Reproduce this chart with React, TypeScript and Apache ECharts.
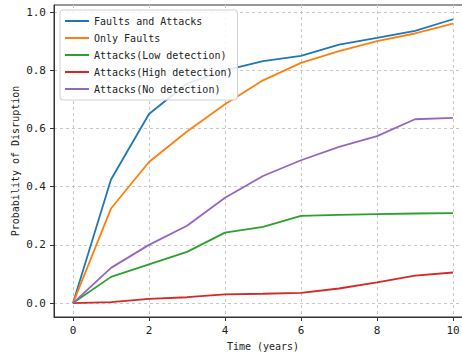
import React, { useEffect, useRef } from "react";
import * as echarts from "echarts";

const years = [0, 1, 2, 3, 4, 5, 6, 7, 8, 9, 10];
const faultsAndAttacks = [0, 0.425, 0.65, 0.755, 0.8, 0.832, 0.85, 0.889, 0.912, 0.936, 0.976];
const onlyFaults = [0, 0.325, 0.485, 0.59, 0.684, 0.766, 0.826, 0.866, 0.901, 0.927, 0.961];
const attacksLow = [0, 0.09, 0.133, 0.176, 0.242, 0.262, 0.3, 0.303, 0.306, 0.308, 0.309];
const attacksHigh = [0, 0.003, 0.014, 0.02, 0.03, 0.032, 0.035, 0.05, 0.071, 0.094, 0.105];
const attacksNone = [0, 0.121, 0.2, 0.266, 0.362, 0.437, 0.491, 0.537, 0.574, 0.632, 0.637];

const seriesNames = [
  "Faults and Attacks",
  "Only Faults",
  "Attacks(Low detection)",
  "Attacks(High detection)",
  "Attacks(No detection)",
];
const seriesValues = [faultsAndAttacks, onlyFaults, attacksLow, attacksHigh, attacksNone];
const colors = ["#1f77b4", "#ff7f0e", "#2ca02c", "#d62728", "#9467bd"];
const xTicks = [0, 2, 4, 6, 8, 10];
const yTicks = [0, 0.2, 0.4, 0.6, 0.8, 1.0];

const FONT = "'DejaVu Sans Mono', 'Liberation Mono', monospace";

export default function App() {
  const ref = useRef<HTMLDivElement>(null);
  useEffect(() => {
    if (!ref.current) return;
    const chart = echarts.init(ref.current, null, { renderer: "svg" });
    chart.setOption({
      animation: false,
      color: colors,
      grid: {
        left: 54,
        top: 5,
        width: 418,
        height: 312,
        outerBoundsMode: "none",
        containLabel: false,
        show: true,
        borderColor: "#333",
        borderWidth: 1,
      },
      legend: {
        orient: "vertical",
        left: 60,
        top: 10,
        data: seriesNames,
        icon: "rect",
        itemWidth: 24,
        itemHeight: 2,
        itemGap: 5,
        padding: [5, 5, 5, 5],
        backgroundColor: "rgba(255,255,255,0.85)",
        borderColor: "#d0d0d0",
        borderWidth: 1,
        borderRadius: 3,
        textStyle: { fontFamily: FONT, fontSize: 10, color: "#222", lineHeight: 12 },
      },
      xAxis: {
        type: "value",
        min: -0.5,
        max: 10.5,
        name: "Time (years)",
        nameLocation: "middle",
        nameGap: 24,
        nameTextStyle: { fontFamily: FONT, fontSize: 10, color: "#222" },
        axisLine: { show: true, onZero: false, lineStyle: { color: "#333", width: 1 } },
        axisTick: { show: true, length: 4, customValues: xTicks, lineStyle: { color: "#333" } },
        axisLabel: {
          customValues: xTicks,
          fontFamily: FONT,
          fontSize: 11,
          color: "#222",
          margin: 8,
          formatter: (v: number) => String(v),
        },
        splitLine: { show: true, lineStyle: { color: "#c8c8c8", type: [3, 3], width: 1 } },
      },
      yAxis: {
        type: "value",
        min: -0.048,
        max: 1.025,
        name: "Probability of Disruption",
        nameLocation: "middle",
        nameGap: 34,
        nameMoveOverlap: false,
        nameTextStyle: { fontFamily: FONT, fontSize: 10, color: "#222" },
        axisLine: { show: true, onZero: false, lineStyle: { color: "#333", width: 1 } },
        axisTick: { show: true, length: 4, customValues: yTicks, lineStyle: { color: "#333" } },
        axisLabel: {
          customValues: yTicks,
          fontFamily: FONT,
          fontSize: 11,
          color: "#222",
          margin: 8,
          formatter: (v: number) => v.toFixed(1),
        },
        splitLine: { show: true, lineStyle: { color: "#c8c8c8", type: [3, 3], width: 1 } },
      },
      series: seriesNames.map((name, i) => ({
        name,
        type: "line",
        data: years.map((x, j) => [x, seriesValues[i][j]]),
        showSymbol: false,
        symbol: "none",
        lineStyle: { width: 1.8, color: colors[i] },
        itemStyle: { color: colors[i] },
      })),
    });
    return () => chart.dispose();
  }, []);
  return (
    <div
      ref={ref}
      style={{ position: "absolute", left: 0, top: 0, width: 462, height: 355 }}
    />
  );
}
